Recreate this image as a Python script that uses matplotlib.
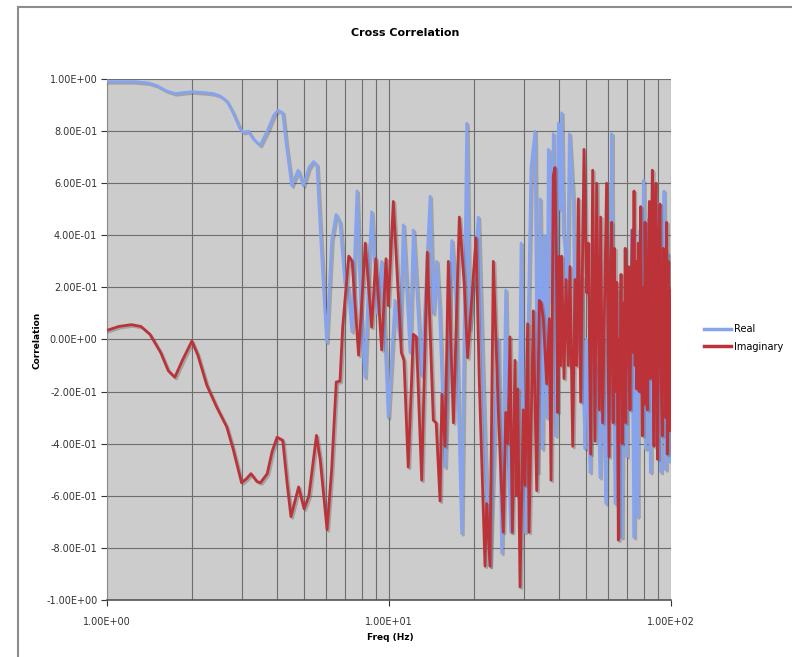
import matplotlib
matplotlib.use("Agg")
import matplotlib.pyplot as plt
import matplotlib.patches as patches
from matplotlib import patheffects
from matplotlib.lines import Line2D
from matplotlib.ticker import FixedLocator, LogLocator, NullFormatter, FuncFormatter

# Real part (freq in Hz, correlation)
freq_real = [1.00, 1.10, 1.25, 1.40, 1.50, 1.62, 1.74, 1.87, 2.00, 2.20,
             2.38, 2.52, 2.66, 2.80, 2.96, 3.05, 3.17, 3.30, 3.49, 3.70,
             3.90, 4.04, 4.20, 4.32, 4.52, 4.76, 4.97, 5.20, 5.40, 5.55,
             5.75, 6.01, 6.26, 6.49, 6.70, 6.98, 7.15, 7.39, 7.70, 7.95,
             8.22, 8.50, 8.68, 8.92, 9.10, 9.42, 9.94, 10.5, 10.94, 11.24,
             11.87, 12.2, 13.06, 13.98, 14.36, 14.76, 15.1, 15.8, 16.69, 17.2,
             18.1, 18.86, 19.3, 20.73, 21.9, 22.81, 23.6, 24.41, 25.09, 25.93,
             26.5, 27.0, 28.0, 28.8, 29.4, 30.36, 31.2, 31.88, 32.94, 33.67,
             34.32, 34.97, 35.54, 36.24, 36.73, 37.23, 37.74, 38.24, 39.0, 39.85,
             40.4, 40.96, 41.5, 42.08, 42.8, 43.6, 44.44, 45.05, 45.6, 46.3,
             47.2, 48.22, 48.9, 49.55, 50.23, 50.9, 51.62, 52.6, 53.77, 54.8,
             56.0, 56.7, 57.3, 58.0, 58.83, 59.5, 60.0, 60.8, 61.6, 62.0,
             62.4, 63.3, 64.2, 64.8, 65.4, 66.1, 66.86, 67.6, 68.31, 69.0,
             69.65, 70.3, 70.96, 71.7, 72.53, 73.2, 73.94, 75.0, 75.97, 76.8,
             77.64, 78.7, 79.8, 80.6, 81.34, 82.2, 83.1, 84.5, 85.5, 86.56,
             87.5, 88.5, 89.3, 90.2, 91.2, 92.15, 93.2, 94.45, 95.74, 96.5,
             97.3, 98.2, 99.2, 100.0]
corr_real = [0.99, 0.99, 0.99, 0.985, 0.975, 0.955, 0.944, 0.948, 0.951, 0.948,
             0.944, 0.935, 0.915, 0.87, 0.81, 0.795, 0.80, 0.77, 0.745, 0.80,
             0.86, 0.88, 0.87, 0.75, 0.59, 0.65, 0.59, 0.66, 0.683, 0.67,
             0.35, -0.01, 0.38, 0.48, 0.45, 0.21, 0.20, 0.03, 0.57, 0.10,
             -0.145, 0.30, 0.49, 0.27, 0.10, 0.30, -0.30, 0.15, 0.0, 0.44,
             -0.05, 0.42, -0.14, 0.55, 0.10, 0.30, 0.12, -0.49, 0.38, 0.20,
             -0.745, 0.83, 0.04, 0.47, -0.43, -0.87, -0.39, 0.0, -0.82, 0.19,
             -0.46, -0.74, -0.20, -0.55, 0.37, -0.74, 0.10, 0.66, 0.80, -0.51,
             0.54, -0.42, 0.40, -0.30, 0.73, 0.66, 0.14, 0.79, -0.37, 0.83,
             0.50, 0.87, 0.41, 0.35, 0.10, 0.79, 0.63, 0.52, 0.05, 0.29,
             -0.05, 0.24, -0.20, -0.42, 0.00, -0.25, -0.51, 0.05, -0.25, -0.10,
             -0.53, -0.10, 0.00, -0.35, -0.63, -0.05, 0.20, -0.30, 0.79, 0.20,
             0.0, -0.63, 0.19, -0.30, -0.13, -0.45, -0.76, -0.10, 0.06, -0.30,
             -0.45, 0.10, 0.27, -0.10, 0.42, -0.30, -0.76, 0.10, -0.68, 0.00,
             0.42, -0.10, 0.61, 0.00, -0.42, 0.10, 0.46, -0.51, 0.10, 0.41,
             -0.20, 0.30, -0.30, 0.52, -0.10, -0.51, 0.10, 0.57, -0.50, 0.00,
             0.33, -0.10, -0.47, -0.30]

# Imaginary part
freq_imag = [1.00, 1.10, 1.22, 1.32, 1.42, 1.55, 1.65, 1.74, 1.85, 2.00,
             2.10, 2.26, 2.45, 2.66, 2.80, 3.00, 3.12, 3.24, 3.40, 3.50,
             3.70, 3.85, 4.01, 4.20, 4.35, 4.49, 4.78, 5.00, 5.20, 5.53,
             5.70, 6.03, 6.26, 6.50, 6.70, 6.85, 7.20, 7.40, 7.80, 8.24,
             8.68, 8.98, 9.42, 9.76, 9.94, 10.36, 11.06, 11.30, 11.70, 12.20,
             12.5, 13.06, 13.67, 14.36, 14.7, 15.17, 15.4, 15.8, 16.23, 16.92,
             17.76, 18.49, 19.0, 20.35, 20.9, 21.9, 22.2, 22.81, 23.44, 24.41,
             25.42, 25.93, 26.4, 26.85, 27.37, 27.98, 28.37, 28.6, 29.15, 29.94,
             30.36, 31.03, 31.37, 32.49, 33.4, 34.12, 34.6, 35.25, 36.24, 37.02,
             37.54, 38.24, 38.78, 39.3, 39.65, 40.1, 40.6, 40.96, 41.74, 42.43,
             43.24, 43.83, 44.81, 45.66, 46.3, 46.93, 47.83, 49.14, 50.23, 50.91,
             51.9, 52.75, 53.77, 54.5, 55.7, 56.3, 57.2, 59.1, 60.3, 61.0,
             61.6, 62.0, 62.4, 63.0, 63.5, 64.2, 65.05, 65.5, 65.94, 66.5,
             67.1, 67.76, 68.4, 68.8, 69.07, 69.8, 70.6, 71.1, 71.55, 72.2,
             72.94, 73.4, 73.94, 74.6, 75.1, 75.56, 76.56, 77.2, 78.06, 78.6,
             79.13, 79.9, 80.4, 80.9, 81.6, 82.45, 83.1, 83.8, 84.4, 85.1,
             85.86, 86.4, 87.04, 87.7, 88.48, 89.1, 89.68, 90.5, 91.4, 92.2,
             93.15, 93.9, 94.5, 95.2, 95.9, 96.5, 97.03, 97.7, 98.4, 99.2,
             99.6, 100.0]
corr_imag = [0.035, 0.05, 0.057, 0.05, 0.02, -0.05, -0.12, -0.145, -0.08, -0.006,
             -0.06, -0.176, -0.26, -0.336, -0.42, -0.55, -0.535, -0.515, -0.545, -0.55,
             -0.515, -0.43, -0.375, -0.387, -0.55, -0.68, -0.566, -0.65, -0.60, -0.368,
             -0.46, -0.73, -0.50, -0.163, -0.16, 0.047, 0.32, 0.30, -0.06, 0.37,
             0.047, 0.31, -0.04, 0.31, 0.13, 0.53, -0.05, -0.08, -0.49, 0.02,
             0.01, -0.54, 0.335, -0.31, -0.32, -0.62, -0.21, -0.41, 0.30, -0.32,
             0.47, 0.21, -0.07, 0.39, -0.16, -0.87, -0.63, -0.87, 0.30, -0.27,
             -0.74, -0.28, -0.40, 0.01, -0.74, -0.08, -0.60, -0.19, -0.95, -0.27,
             -0.56, 0.06, -0.74, 0.11, -0.58, 0.15, 0.14, 0.08, -0.17, 0.08,
             -0.54, 0.63, 0.66, 0.20, -0.28, 0.32, -0.10, 0.32, -0.15, 0.23,
             -0.10, 0.28, -0.41, 0.23, -0.10, 0.54, -0.24, 0.73, 0.18, 0.37,
             -0.44, 0.65, -0.39, 0.60, -0.27, 0.47, -0.32, 0.60, -0.45, 0.30,
             0.45, -0.10, -0.32, 0.35, -0.20, 0.22, -0.77, 0.00, -0.20, 0.25,
             -0.40, 0.14, -0.30, 0.35, -0.32, 0.10, 0.28, -0.10, -0.27, 0.20,
             0.42, -0.05, 0.57, -0.10, 0.30, -0.19, 0.37, -0.20, 0.51, 0.00,
             -0.37, 0.20, -0.25, 0.45, -0.05, -0.27, 0.30, 0.53, -0.15, 0.30,
             0.65, -0.05, -0.41, 0.40, 0.60, -0.20, -0.46, 0.40, 0.52, -0.15,
             -0.37, 0.35, -0.20, 0.22, -0.30, 0.45, -0.44, 0.30, -0.35, 0.19,
             -0.35, -0.20]

series_names = ["Real", "Imaginary"]
y_ticks = [-1.0, -0.8, -0.6, -0.4, -0.2, 0.0, 0.2, 0.4, 0.6, 0.8, 1.0]
x_ticks = [1, 10, 100]

blue = "#85a3ee"
red = "#bb3339"
W, H = 792, 657

fig = plt.figure(figsize=(W / 100, H / 100), dpi=100)
ax = fig.add_axes([107 / W, 1 - 600 / H, (671 - 107) / W, (600 - 79) / H])
ax.set_facecolor("#cccccc")

shadow = [patheffects.SimpleLineShadow(offset=(1.2, -1.2), shadow_color="#555555", alpha=0.35),
          patheffects.Normal()]
ax.plot(freq_real, corr_real, color=blue, lw=2.0, path_effects=shadow, zorder=3)
ax.plot(freq_imag, corr_imag, color=red, lw=2.0, path_effects=shadow, zorder=4)

ax.set_xscale("log")
ax.set_xlim(1, 100)
ax.set_ylim(-1, 1)
ax.xaxis.set_major_locator(FixedLocator(x_ticks))
ax.xaxis.set_minor_locator(LogLocator(base=10, subs=range(2, 10)))
ax.xaxis.set_minor_formatter(NullFormatter())
ax.set_yticks(y_ticks)
fmt = FuncFormatter(lambda v, p: f"{v:.2E}")
ax.xaxis.set_major_formatter(fmt)
ax.yaxis.set_major_formatter(fmt)

ax.grid(which="both", color="#6e6e6e", lw=0.8)
ax.set_axisbelow(True)
ax.tick_params(axis="both", which="major", labelsize=7, colors="#333333",
               length=4, width=0.8, direction="out", pad=3)
ax.tick_params(axis="x", which="minor", length=0)
ax.tick_params(axis="x", which="major", pad=8)
for s in ["top", "right"]:
    ax.spines[s].set_visible(False)
ax.spines["left"].set_color("#8a8a8a")
ax.spines["bottom"].set_color("#555555")
ax.spines["bottom"].set_linewidth(1.2)

fig.text(405 / W, 1 - 33 / H, "Cross Correlation", ha="center", va="center",
         fontsize=8, fontweight="bold")
fig.text(390 / W, 1 - 638 / H, "Freq (Hz)", ha="center", va="center",
         fontsize=6.5, fontweight="bold")
fig.text(37 / W, 1 - 340 / H, "Correlation", ha="center", va="center",
         fontsize=6.5, fontweight="bold", rotation=90)

handles = [Line2D([], [], color=blue, lw=2.5), Line2D([], [], color=red, lw=2.5)]
fig.legend(handles, series_names, loc="center left", bbox_to_anchor=(704 / W, 1 - 338 / H),
           frameon=False, fontsize=7, handlelength=2.8, handletextpad=0.3,
           labelspacing=0.75, borderpad=0, borderaxespad=0)

fig.add_artist(patches.Rectangle((18 / W, -0.05), 1.0, 1 - 7 / H + 0.05,
                                 transform=fig.transFigure, fill=False,
                                 edgecolor="#8c8c8c", lw=1.5))

fig.savefig("out.png", dpi=100)
